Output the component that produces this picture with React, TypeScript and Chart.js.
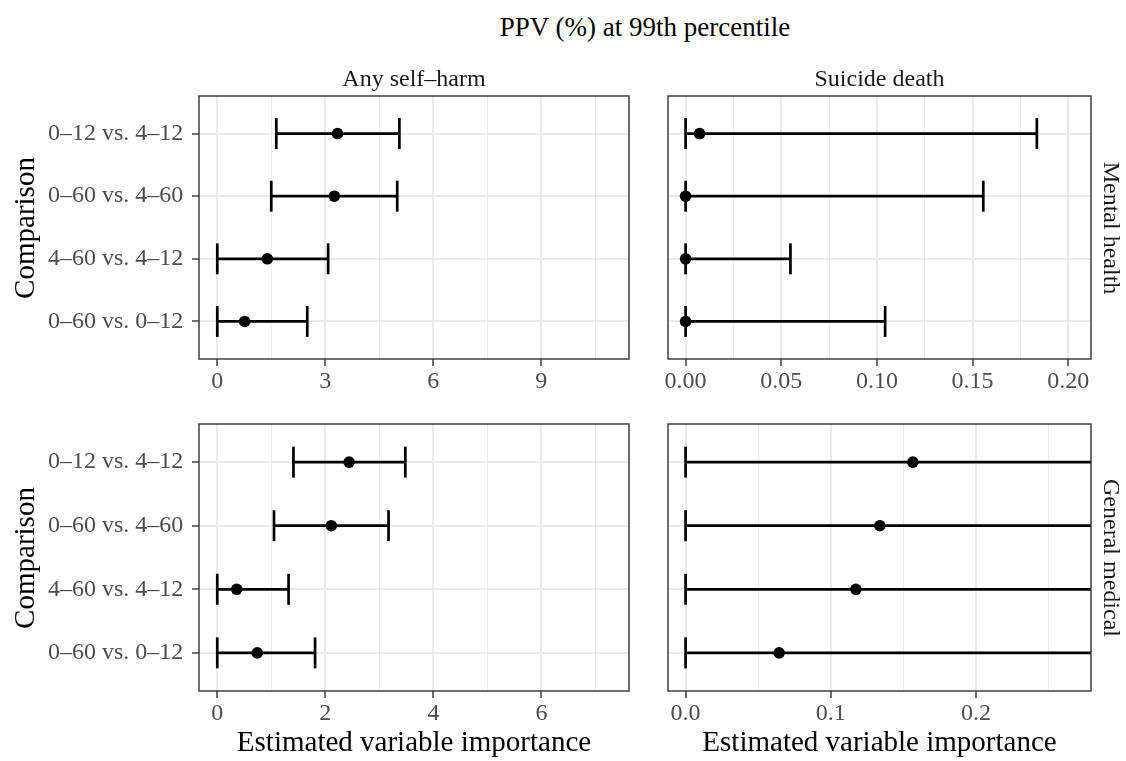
import React, { useEffect, useRef } from "react";
import { Chart, registerables } from "chart.js";

Chart.register(...registerables);

const FONT = "'Liberation Serif', 'Times New Roman', serif";

// ---------- text ----------
const plotTitle = "PPV (%) at 99th percentile";
const colStrips = ["Any self–harm", "Suicide death"];
const rowStrips = ["Mental health", "General medical"];
const yAxisTitle = "Comparison";
const xAxisTitle = "Estimated variable importance";

// ---------- categories (top to bottom) ----------
const comparisons = ["0–12 vs. 4–12", "0–60 vs. 4–60", "4–60 vs. 4–12", "0–60 vs. 0–12"];

// ---------- data: Mental health / Any self-harm ----------
const mhSelfHarmEst = [3.34, 3.25, 1.39, 0.76];
const mhSelfHarmLo = [1.64, 1.5, 0, 0];
const mhSelfHarmHi = [5.06, 5.0, 3.08, 2.5];

// ---------- data: Mental health / Suicide death ----------
const mhSuicideEst = [0.0073, 0, 0, 0];
const mhSuicideLo = [0, 0, 0, 0];
const mhSuicideHi = [0.1836, 0.1556, 0.0548, 0.1043];

// ---------- data: General medical / Any self-harm ----------
const gmSelfHarmEst = [2.44, 2.11, 0.36, 0.74];
const gmSelfHarmLo = [1.41, 1.05, 0, 0];
const gmSelfHarmHi = [3.48, 3.17, 1.32, 1.81];

// ---------- data: General medical / Suicide death ----------
const gmSuicideEst = [0.1565, 0.1338, 0.1173, 0.0644];
const gmSuicideLo = [0, 0, 0, 0];
const gmSuicideHi = [0.52, 0.47, 0.44, 0.36];

// ---------- tick labels ----------
const mhSelfHarmTicks = [0, 3, 6, 9];
const mhSelfHarmTickLabels = ["0", "3", "6", "9"];
const mhSelfHarmMinor = [1.5, 4.5, 7.5, 10.5];

const mhSuicideTicks = [0, 0.05, 0.1, 0.15, 0.2];
const mhSuicideTickLabels = ["0.00", "0.05", "0.10", "0.15", "0.20"];
const mhSuicideMinor = [0.025, 0.075, 0.125, 0.175];

const gmSelfHarmTicks = [0, 2, 4, 6];
const gmSelfHarmTickLabels = ["0", "2", "4", "6"];
const gmSelfHarmMinor = [1, 3, 5, 7];

const gmSuicideTicks = [0, 0.1, 0.2];
const gmSuicideTickLabels = ["0.0", "0.1", "0.2"];
const gmSuicideMinor = [0.05, 0.15, 0.25];

type Rect = { left: number; top: number; width: number; height: number };
type Area = { left: number; top: number; right: number; bottom: number };

type PanelProps = {
  est: number[];
  lo: number[];
  hi: number[];
  xMin: number;
  xMax: number;
  majors: number[];
  majorLabels: string[];
  minors: number[];
  canvas: Rect;
  area: Area;
  showY: boolean;
};

const borderPlugin = {
  id: "panelBorder",
  afterDatasetsDraw(chart: any) {
    const { ctx, chartArea: a } = chart;
    ctx.save();
    ctx.strokeStyle = "#333333";
    ctx.lineWidth = 1.4;
    ctx.strokeRect(a.left, a.top, a.right - a.left, a.bottom - a.top);
    ctx.restore();
  },
};

function Panel(p: PanelProps) {
  const ref = useRef<HTMLCanvasElement | null>(null);
  useEffect(() => {
    if (!ref.current) return;
    const padLeft = p.showY ? 0 : p.area.left - p.canvas.left;
    const yWidth = p.showY ? p.area.left - p.canvas.left : 0;
    const padTop = p.area.top - p.canvas.top;
    const padRight = p.canvas.left + p.canvas.width - p.area.right;
    const xHeight = p.canvas.top + p.canvas.height - p.area.bottom;

    const pointData = p.est.map((v, i) => ({ x: v, y: i + 1 }));
    const barSets = p.lo.map((l, i) => ({
      type: "scatter" as const,
      data: [
        { x: l, y: i + 1 },
        { x: p.hi[i], y: i + 1 },
      ],
      showLine: true,
      borderColor: "#000000",
      borderWidth: 2.7,
      pointStyle: "line",
      pointRotation: 90,
      pointRadius: 15.5,
      pointBorderColor: "#000000",
      pointBorderWidth: 2.7,
      clip: 0,
    }));

    const allTicks = () =>
      [
        ...p.majors.map((v, i) => ({ value: v, lab: p.majorLabels[i], minor: false })),
        ...p.minors.map((v) => ({ value: v, lab: "", minor: true })),
      ].sort((a, b) => a.value - b.value);

    const chart = new Chart(ref.current, {
      type: "scatter",
      data: {
        datasets: [
          {
            data: pointData,
            pointRadius: 5.8,
            pointBackgroundColor: "#000000",
            pointBorderWidth: 0,
            pointStyle: "circle",
            clip: 0,
          } as any,
          ...(barSets as any[]),
        ],
      },
      options: {
        animation: false,
        responsive: false,
        devicePixelRatio: 1,
        events: [],
        layout: {
          autoPadding: false,
          padding: { left: padLeft, top: padTop, right: padRight, bottom: 0 },
        },
        plugins: { legend: { display: false }, tooltip: { enabled: false }, title: { display: false } },
        scales: {
          x: {
            type: "linear",
            min: p.xMin,
            max: p.xMax,
            afterBuildTicks: (axis: any) => {
              axis.ticks = allTicks();
            },
            afterFit: (s: any) => {
              s.height = xHeight;
              s.paddingLeft = 0;
              s.paddingRight = 0;
              s.paddingTop = 0;
              s.paddingBottom = 0;
            },
            ticks: {
              autoSkip: false,
              maxRotation: 0,
              minRotation: 0,
              padding: 1,
              color: "#4D4D4D",
              font: { family: FONT, size: 24 },
              callback: (_v: any, i: number, ticks: any[]) => (ticks[i] ? ticks[i].lab : ""),
            },
            grid: {
              color: "#EBEBEB",
              lineWidth: (c: any) => (c.tick && c.tick.minor ? 1 : 2),
              tickColor: (c: any) => (c.tick && c.tick.minor ? "rgba(0,0,0,0)" : "#333333"),
              tickLength: 7,
              tickWidth: 1.4,
              drawTicks: true,
            },
            border: { display: false },
          } as any,
          y: {
            type: "linear",
            reverse: true,
            min: 0.4,
            max: 4.6,
            afterBuildTicks: (axis: any) => {
              axis.ticks = comparisons.map((_c, i) => ({ value: i + 1 }));
            },
            afterFit: (s: any) => {
              s.width = yWidth;
              s.paddingLeft = 0;
              s.paddingRight = 0;
              s.paddingTop = 0;
              s.paddingBottom = 0;
            },
            ticks: {
              display: p.showY,
              autoSkip: false,
              padding: 8.7,
              color: "#4D4D4D",
              font: { family: FONT, size: 24 },
              callback: (v: any) => comparisons[Math.round(Number(v)) - 1] ?? "",
            },
            grid: {
              color: "#EBEBEB",
              lineWidth: 2,
              drawTicks: p.showY,
              tickLength: 7,
              tickColor: "#333333",
              tickWidth: 1.4,
            },
            border: { display: false },
          } as any,
        },
      },
      plugins: [borderPlugin],
    } as any);
    return () => chart.destroy();
  }, []);
  return (
    <canvas
      ref={ref}
      width={p.canvas.width}
      height={p.canvas.height}
      style={{
        position: "absolute",
        left: p.canvas.left,
        top: p.canvas.top,
        width: p.canvas.width,
        height: p.canvas.height,
      }}
    />
  );
}

function Label(props: { text: string; cx: number; cy: number; size: number; color: string; rotate?: number }) {
  const { text, cx, cy, size, color, rotate } = props;
  return (
    <div
      style={{
        position: "absolute",
        left: cx,
        top: cy,
        transform: `translate(-50%, -50%)${rotate ? ` rotate(${rotate}deg)` : ""}`,
        fontFamily: FONT,
        fontSize: size,
        lineHeight: 1,
        color,
        whiteSpace: "nowrap",
      }}
    >
      {text}
    </div>
  );
}

export default function App() {
  const topArea = { top: 96, bottom: 359 };
  const botArea = { top: 424, bottom: 691 };
  const leftX = { left: 199, right: 629 };
  const rightX = { left: 668, right: 1091 };
  return (
    <div
      style={{
        position: "absolute",
        left: 0,
        top: 0,
        width: 1126,
        height: 761,
        background: "#ffffff",
        overflow: "hidden",
      }}
    >
      <Panel
        est={mhSelfHarmEst}
        lo={mhSelfHarmLo}
        hi={mhSelfHarmHi}
        xMin={-0.508}
        xMax={11.44}
        majors={mhSelfHarmTicks}
        majorLabels={mhSelfHarmTickLabels}
        minors={mhSelfHarmMinor}
        canvas={{ left: 0, top: 86, width: 645, height: 314 }}
        area={{ ...leftX, ...topArea }}
        showY={true}
      />
      <Panel
        est={mhSuicideEst}
        lo={mhSuicideLo}
        hi={mhSuicideHi}
        xMin={-0.0092}
        xMax={0.2119}
        majors={mhSuicideTicks}
        majorLabels={mhSuicideTickLabels}
        minors={mhSuicideMinor}
        canvas={{ left: 650, top: 86, width: 450, height: 314 }}
        area={{ ...rightX, ...topArea }}
        showY={false}
      />
      <Panel
        est={gmSelfHarmEst}
        lo={gmSelfHarmLo}
        hi={gmSelfHarmHi}
        xMin={-0.338}
        xMax={7.62}
        majors={gmSelfHarmTicks}
        majorLabels={gmSelfHarmTickLabels}
        minors={gmSelfHarmMinor}
        canvas={{ left: 0, top: 414, width: 645, height: 318 }}
        area={{ ...leftX, ...botArea }}
        showY={true}
      />
      <Panel
        est={gmSuicideEst}
        lo={gmSuicideLo}
        hi={gmSuicideHi}
        xMin={-0.0121}
        xMax={0.2792}
        majors={gmSuicideTicks}
        majorLabels={gmSuicideTickLabels}
        minors={gmSuicideMinor}
        canvas={{ left: 650, top: 414, width: 450, height: 318 }}
        area={{ ...rightX, ...botArea }}
        showY={false}
      />

      <Label text={plotTitle} cx={645} cy={27} size={27} color="#000000" />
      <Label text={colStrips[0]} cx={414} cy={78} size={24} color="#1A1A1A" />
      <Label text={colStrips[1]} cx={879.5} cy={78} size={24} color="#1A1A1A" />
      <Label text={rowStrips[0]} cx={1112} cy={227.5} size={24} color="#1A1A1A" rotate={90} />
      <Label text={rowStrips[1]} cx={1112} cy={557.5} size={24} color="#1A1A1A" rotate={90} />
      <Label text={yAxisTitle} cx={23.5} cy={227.5} size={29} color="#000000" rotate={-90} />
      <Label text={yAxisTitle} cx={23.5} cy={557.5} size={29} color="#000000" rotate={-90} />
      <Label text={xAxisTitle} cx={414} cy={740.7} size={29} color="#000000" />
      <Label text={xAxisTitle} cx={879.5} cy={740.7} size={29} color="#000000" />
    </div>
  );
}
